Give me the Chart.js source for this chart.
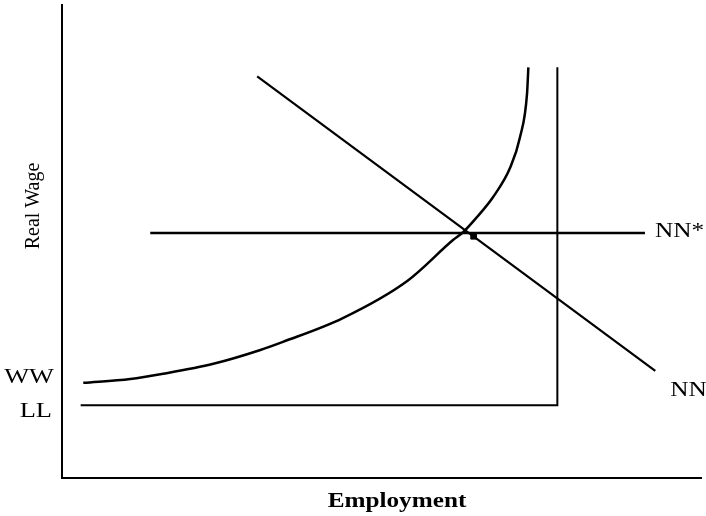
<!DOCTYPE html>
<html lang="en">
<head>
    <meta charset="UTF-8">
    <title>Real Wage and Employment</title>
    <style>
        * { box-sizing: border-box; margin: 0; padding: 0; }
        body { background: #fff; width: 706px; height: 516px; overflow: hidden; }
    </style>
    <script src="https://cdn.jsdelivr.net/npm/chart.js"></script>
</head>
<body>
    <canvas id="wageChart" width="706" height="516"></canvas>

    <script>
        // WW curve (wage setting), rising steeply near full employment
        const wwX = [3.3, 10.6, 15.7, 23.5, 30.8, 34.3, 43.6, 53.6, 60.7, 62.3, 64.4, 66.9, 69.6, 71.1, 72.2, 72.4];
        const wwY = [20, 20.8, 21.9, 24, 26.9, 28.6, 33.6, 41.4, 50, 51.7, 54.8, 59, 65.3, 71.6, 80.9, 86.3];

        // NN line (downward sloping)
        const nnX = [30.3, 92.1];
        const nnY = [84.4, 22.5];

        // NN* line (horizontal)
        const nnStarX = [13.7, 90.5];
        const nnStarY = [51.5, 51.5];

        // LL: labour force line and its vertical limit
        const llX = [2.9, 76.9, 76.9];
        const llY = [15.3, 15.3, 86.3];

        // equilibrium marker
        const eqX = [63.9];
        const eqY = [50.8];

        // axis ranges (no ticks shown, schematic diagram)
        const xRange = [0, 99.2];
        const yRange = [0, 99.4];

        const axisTitles = { x: 'Employment', y: 'Real Wage' };
        const curveNames = { ww: 'WW', ll: 'LL', nnStar: 'NN*', nn: 'NN' };

        const toPoints = (xs, ys) => xs.map((x, i) => ({ x: x, y: ys[i] }));

        const serif = '"Liberation Serif", "DejaVu Serif", serif';

        // text drawn a little wider than the font, like the scanned original
        function wideText(ctx, text, x, y, align, stretch) {
            ctx.save();
            ctx.translate(x, y);
            ctx.scale(stretch, 1);
            ctx.textAlign = align;
            ctx.fillText(text, 0, 0);
            ctx.restore();
        }

        // draw axis titles and curve names next to their lines
        const labelPlugin = {
            id: 'labelPlugin',
            afterDraw(chart) {
                const ctx = chart.ctx;
                const xs = chart.scales.x, ys = chart.scales.y;
                const area = chart.chartArea;
                ctx.save();
                ctx.fillStyle = '#000';
                ctx.textBaseline = 'alphabetic';

                ctx.font = '22px ' + serif;
                wideText(ctx, curveNames.ww, area.left - 8, ys.getPixelForValue(wwY[0]), 'right', 1.2);
                wideText(ctx, curveNames.ll, area.left - 10, ys.getPixelForValue(llY[0]) + 12, 'right', 1.2);
                wideText(ctx, curveNames.nnStar, xs.getPixelForValue(nnStarX[1]) + 10, ys.getPixelForValue(nnStarY[1]) + 4, 'left', 1.15);
                wideText(ctx, curveNames.nn, xs.getPixelForValue(nnX[1]) + 15, ys.getPixelForValue(nnY[1]) + 25, 'left', 1.15);

                // x axis title
                ctx.font = 'bold 21px ' + serif;
                wideText(ctx, axisTitles.x, 397, 507, 'center', 1.2);

                // y axis title
                ctx.font = '20px ' + serif;
                ctx.translate(39, 206);
                ctx.rotate(-Math.PI / 2);
                ctx.textAlign = 'center';
                ctx.fillText(axisTitles.y, 0, 0);
                ctx.restore();
            }
        };

        const lineStyle = {
            showLine: true,
            pointRadius: 0,
            borderColor: '#000',
            backgroundColor: '#000',
            fill: false,
            clip: false
        };

        const ctx = document.getElementById('wageChart').getContext('2d');
        const chart = new Chart(ctx, {
            type: 'scatter',
            data: {
                datasets: [
                    Object.assign({}, lineStyle, {
                        label: 'WW', data: toPoints(wwX, wwY),
                        borderWidth: 2.5, tension: 0.4, cubicInterpolationMode: 'monotone'
                    }),
                    Object.assign({}, lineStyle, { label: 'NN', data: toPoints(nnX, nnY), borderWidth: 2.2 }),
                    Object.assign({}, lineStyle, { label: 'NN*', data: toPoints(nnStarX, nnStarY), borderWidth: 2.5 }),
                    Object.assign({}, lineStyle, { label: 'LL', data: toPoints(llX, llY), borderWidth: 2 }),
                    {
                        label: 'Equilibrium', data: toPoints(eqX, eqY),
                        pointStyle: 'rect', pointRadius: 4,
                        backgroundColor: '#000', borderColor: '#000', clip: false
                    }
                ]
            },
            options: {
                responsive: false,
                animation: false,
                layout: { padding: { left: 62, top: 0, right: 0, bottom: 38 } },
                plugins: {
                    legend: { display: false },
                    tooltip: { enabled: false }
                },
                scales: {
                    x: {
                        type: 'linear', min: xRange[0], max: xRange[1],
                        grid: { display: false, drawTicks: false },
                        ticks: { display: false },
                        border: { display: true, color: '#000', width: 2 }
                    },
                    y: {
                        type: 'linear', min: yRange[0], max: yRange[1],
                        grid: { display: false, drawTicks: false },
                        ticks: { display: false },
                        border: { display: true, color: '#000', width: 2 }
                    }
                }
            },
            plugins: [labelPlugin]
        });
    </script>
</body>
</html>
